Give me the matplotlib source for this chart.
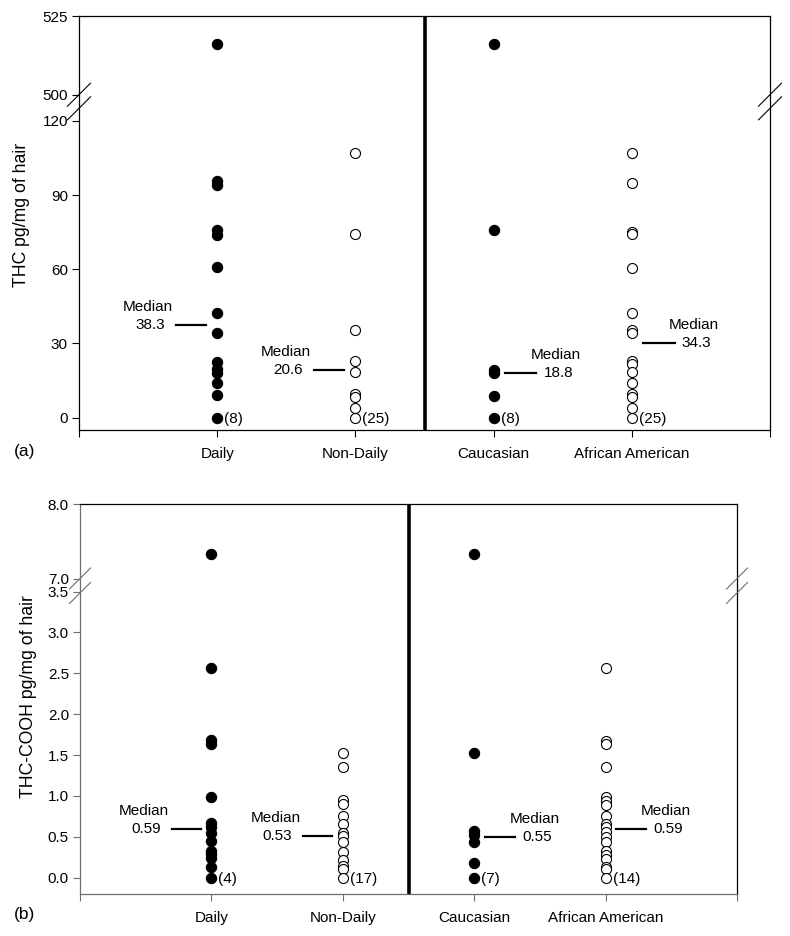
import numpy as np
import matplotlib
matplotlib.use("Agg")
import matplotlib.pyplot as plt

plt.rcParams['font.family'] = ['Liberation Sans', 'DejaVu Sans']
plt.rcParams['font.size'] = 11

# categories on the x axis
groups = ["Daily", "Non-Daily", "Caucasian", "African American"]
filled = [True, False, True, False]

# (a) THC pg/mg of hair
thc_daily = [516, 95.5, 94, 76, 74, 61, 42.4, 34.2, 22.6, 19.5, 18.0, 14.0, 9.3, 0]
thc_nondaily = [107, 74.3, 35.3, 23.0, 18.3, 9.5, 8.5, 3.8, 0]
thc_cauc = [516, 75.7, 19.3, 18.2, 8.9, 0]
thc_afam = [107, 94.7, 75, 74.3, 60.7, 42.4, 35.3, 34.2, 23, 21.5, 18.3, 14, 9.5, 8.5, 3.8, 0]
thc_median_text = ["38.3", "20.6", "18.8", "34.3"]
thc_median_level = [37.4, 19.1, 18.0, 30.0]
thc_counts = ["(8)", "(25)", "(8)", "(25)"]
thc_yticks = [0, 30, 60, 90, 120, 500, 525]

# (b) THC-COOH pg/mg of hair
cooh_daily = [7.33, 2.56, 1.68, 1.63, 0.99, 0.665, 0.62, 0.55, 0.45, 0.33, 0.29, 0.24, 0.13, 0.0]
cooh_nondaily = [1.52, 1.35, 0.95, 0.90, 0.75, 0.66, 0.55, 0.51, 0.43, 0.31, 0.22, 0.14, 0.11, 0.0]
cooh_cauc = [7.33, 1.52, 0.57, 0.52, 0.43, 0.18, 0.0]
cooh_afam = [2.56, 1.67, 1.63, 1.35, 0.99, 0.94, 0.89, 0.75, 0.66, 0.62, 0.56, 0.50,
             0.44, 0.33, 0.28, 0.23, 0.13, 0.10, 0.0]
cooh_median_text = ["0.59", "0.53", "0.55", "0.59"]
cooh_median_level = [0.60, 0.51, 0.50, 0.60]
cooh_counts = ["(4)", "(17)", "(7)", "(14)"]
cooh_yticks = [0, 0.5, 1.0, 1.5, 2.0, 2.5, 3.0, 3.5, 7.0, 8.0]


def make_break(b1, b2, gap, k):
    # piecewise linear scale: squeeze the range b1..b2 into "gap" units
    def fwd(v):
        v = np.asarray(v, float)
        mid = b1 + (v - b1) * gap / (b2 - b1)
        return np.where(v <= b1, v, np.where(v >= b2, b1 + gap + (v - b2) * k, mid))

    def inv(u):
        u = np.asarray(u, float)
        mid = b1 + (u - b1) * (b2 - b1) / gap
        return np.where(u <= b1, u, np.where(u >= b1 + gap, b2 + (u - b1 - gap) / k, mid))
    return fwd, inv


def break_marks(ax, ys, color, half=0.115):
    # two "//" marks across the left and right spines
    inch = ax.figure.dpi_scale_trans
    for xa in (0, 1):
        for ya in ys:
            px = ax.transAxes.transform((xa, ya))
            cx, cy = inch.inverted().transform(px)
            ax.plot([cx - half, cx + half], [cy - half, cy + half], transform=inch,
                    color=color, lw=0.8, clip_on=False, zorder=5)


def draw_panel(ax, data, med_level, med_text, counts, yticks, ylim, scale, spine_color,
               ylabel, tag, tag_y, label_pos, fmt):
    fwd, inv = scale
    ax.set_yscale('function', functions=(fwd, inv))
    ax.set_xlim(0, 5)
    ax.set_ylim(*ylim)

    for i, vals in enumerate(data):
        x = np.full(len(vals), i + 1.0)
        if filled[i]:
            ax.plot(x, vals, 'o', ms=7.4, mfc='black', mec='black', mew=0.8, clip_on=False, zorder=3)
        else:
            ax.plot(x, vals, 'o', ms=7.2, mfc='white', mec='black', mew=0.8, clip_on=False, zorder=3)

        y = med_level[i]
        if i < 2:
            # median label on the left of the dots
            x0, x1 = i + 1 - 0.30, i + 1 - 0.08
            ax.plot([x0, x1], [y, y], color='black', lw=1.6)
            ax.annotate("Median", (x0, y), xytext=(-2, 13), textcoords='offset points',
                        ha='right', va='center')
            ax.annotate(med_text[i], (x0, y), xytext=(-8, 0), textcoords='offset points',
                        ha='right', va='center')
        else:
            x0, x1 = i + 1 + 0.08, i + 1 + 0.31
            ax.plot([x0, x1], [y, y], color='black', lw=1.6)
            ax.annotate("Median", (x1, y), xytext=(-4, 13), textcoords='offset points',
                        ha='left', va='center')
            ax.annotate(med_text[i], (x1, y), xytext=(5, 0), textcoords='offset points',
                        ha='left', va='center')

        ax.annotate(counts[i], (i + 1, 0), xytext=(5, -1), textcoords='offset points',
                    ha='left', va='center')

    # divider between the two comparisons
    ax.axvline(2.5, color='black', lw=2.6, zorder=4)

    ax.set_xticks([0, 1, 2, 3, 4, 5])
    ax.set_xticklabels([''] + groups + [''])
    ax.set_yticks(yticks)
    ax.set_yticklabels([fmt.format(t) for t in yticks])
    ax.minorticks_off()
    ax.tick_params(axis='x', direction='out', length=5, width=0.8, pad=7, colors=spine_color,
                   labelcolor='black')
    ax.tick_params(axis='y', direction='out', length=5, width=0.8, pad=3, colors=spine_color,
                   labelcolor='black')
    for s in ax.spines.values():
        s.set_linewidth(0.9)
    ax.spines['left'].set_color(spine_color)
    ax.spines['bottom'].set_color(spine_color)

    ax.set_ylabel(ylabel, fontsize=12.7)
    ax.yaxis.set_label_coords(*label_pos)
    ax.text(0.017, tag_y, tag, transform=ax.figure.transFigure, ha='left', va='center',
            fontsize=12.5)


fig = plt.figure(figsize=(7.9, 9.36), dpi=100)
ax_a = fig.add_axes([0.100, 0.5406, 0.8747, 0.4423])
ax_b = fig.add_axes([0.1013, 0.0449, 0.8316, 0.4166])

draw_panel(ax_a, [thc_daily, thc_nondaily, thc_cauc, thc_afam], thc_median_level,
           thc_median_text, thc_counts, thc_yticks, (-5, 525), make_break(120, 500, 10.5, 1.277),
           'black', "THC pg/mg of hair", "(a)", 1 - 451 / 936, (-0.071, 0.52), "{:g}")
draw_panel(ax_b, [cooh_daily, cooh_nondaily, cooh_cauc, cooh_afam], cooh_median_level,
           cooh_median_text, cooh_counts, cooh_yticks, (-0.2, 8.0), make_break(3.5, 7.0, 0.153, 0.917),
           '#6e6e6e', "THC-COOH pg/mg of hair", "(b)", 1 - 915 / 936, (-0.066, 0.505), "{:.1f}")

break_marks(ax_a, [0.810, 0.777], 'black')
break_marks(ax_b, [0.809, 0.772], '#6e6e6e', half=0.105)

plt.savefig('out.png', dpi=100)
plt.close()
